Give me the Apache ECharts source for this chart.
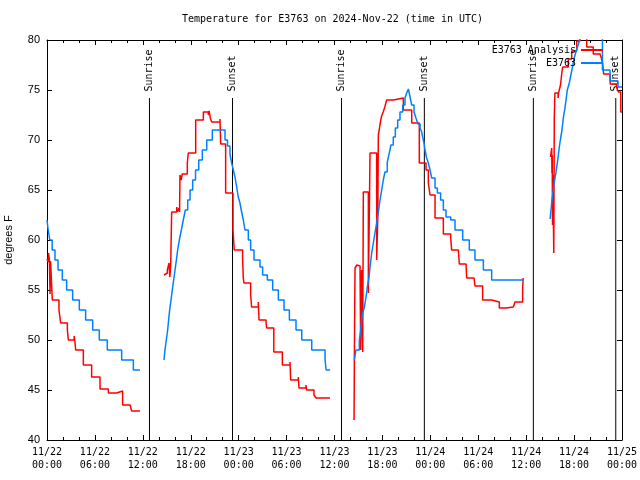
<!DOCTYPE html>
<html><head><meta charset="utf-8">
<script src="https://cdn.jsdelivr.net/npm/echarts@6/dist/echarts.min.js"></script>
<style>html,body{margin:0;padding:0;background:#fff}#c{width:640px;height:480px}</style>
</head><body><div id="c"></div>
<script>
const chartTitle = 'Temperature for E3763 on 2024-Nov-22 (time in UTC)';
const yAxisName = 'degrees F';
const analysisName = 'E3763 Analysis';
const obsName = 'E3763';
// x = hours since 2024-11-22 00:00 UTC
const xTickLabels = ['11/22\n00:00','11/22\n06:00','11/22\n12:00','11/22\n18:00','11/23\n00:00','11/23\n06:00','11/23\n12:00','11/23\n18:00','11/24\n00:00','11/24\n06:00','11/24\n12:00','11/24\n18:00','11/25\n00:00'];
const sunLabels = ['Sunrise','Sunset','Sunrise','Sunset','Sunrise','Sunset'];
const sunHours = [12.83, 23.23, 36.88, 47.25, 60.9, 71.22];
const sunLineTop = 74.2;

// red series (E3763 Analysis) segments
const redA = [[0.00,58.1],[0.12,57.8],[0.2,58.7],[0.3,58.0],[0.38,54.6],[0.45,57.9],[0.55,56.0],[0.67,54.0],[1.5,53.0],[1.71,51.7],[2.55,51.0],[2.67,50.0],[3.4,50.4],[3.5,49.8],[3.59,49.0],[4.55,47.5],[5.59,46.3],[6.64,45.1],[7.68,44.7],[8.72,44.9],[9.47,43.5],[10.4,43.7],[10.6,42.9],[11.64,42.9]];
const redB = [[14.65,56.5],[14.86,56.7],[15.07,57.0],[15.28,57.7],[15.38,56.3],[15.49,57.5],[15.61,62.8],[16.24,63.3],[16.3,62.8],[16.53,63.2],[16.6,62.8],[16.65,66.5],[16.8,66.0],[16.94,66.6],[17.57,67.7],[17.69,68.7],[18.62,72.0],[19.58,72.8],[20.2,72.5],[20.3,72.9],[20.45,72.2],[20.62,71.8],[21.66,72.1],[21.75,69.6],[22.37,64.7],[23.29,61.0],[23.45,59.0],[24.49,58.2],[24.58,56.2],[24.66,55.7],[25.5,54.5],[25.62,53.3],[26.46,53.8],[26.55,52.0],[27.43,51.7],[27.51,51.2],[28.4,48.8],[29.47,47.5],[30.43,47.8],[30.51,46.0],[31.47,46.3],[31.55,45.2],[32.43,45.5],[32.51,45.0],[33.43,44.5],[33.68,44.2],[35.44,44.2]];
const redC = [[38.45,42.0],[38.5,49.7],[38.57,57.2],[38.8,57.5],[39.05,57.4],[39.2,57.0],[39.28,49.0],[39.4,57.0],[39.53,48.8],[39.61,64.8],[40.24,54.7],[40.45,68.7],[41.28,58.0],[41.42,62.3],[41.49,70.5],[41.6,71.0],[41.69,71.5],[41.8,72.0],[41.9,72.4],[42.1,72.8],[42.3,73.3],[42.53,74.0],[43.37,74.2],[44.62,73.0],[45.67,71.7],[46.62,67.7],[47.46,67.0],[47.75,65.7],[47.96,64.5],[48.59,62.2],[49.63,60.6],[50.55,60.2],[50.67,59.0],[51.51,59.2],[51.63,57.6],[52.47,57.7],[52.55,56.2],[53.47,56.4],[53.59,55.4],[54.55,54.0],[55.68,53.8],[56.64,53.2],[57.48,53.3],[58.39,53.5],[58.6,53.8],[59.56,55.0],[59.62,56.2],[59.65,56.2]];
const redD = [[63.05,68.3],[63.2,69.2],[63.23,66.7],[63.26,68.5],[63.3,61.5],[63.36,66.5],[63.42,61.3],[63.46,58.7],[63.52,72.2],[63.6,74.7],[64.0,74.2],[64.05,74.7],[64.3,75.5],[64.45,76.6],[64.57,77.3],[65.27,78.1],[65.7,78.9],[66.33,79.9],[66.74,80.8],[67.58,79.3],[68.4,78.6],[69.25,78.5],[69.45,78.1],[69.58,77.6],[69.7,76.6],[70.52,75.6],[71.3,75.3],[71.55,74.8],[71.85,72.8],[72.0,72.8]];

// blue series (E3763) segments
const blueA = [[0,62],[0.15,61],[0.35,60],[0.65,59],[1.0,58],[1.38,57],[1.92,56],[2.46,55],[3.21,54],[4.05,53],[4.84,52],[5.72,51],[6.55,50],[7.55,49],[9.35,48],[10.81,47],[11.65,47]];
const blueB = [[14.65,48],[14.77,49],[14.94,50],[15.11,51],[15.23,52],[15.36,53],[15.53,54],[15.69,55],[15.86,56],[16.03,57],[16.2,58],[16.36,59],[16.57,60],[16.82,61],[17.07,62],[17.32,63],[17.62,64],[17.91,65],[18.24,66],[18.6,67],[19.0,68],[19.45,69],[20.0,70],[20.7,71],[22.29,70],[22.6,69.4],[22.91,68.6],[23.12,67.7],[23.33,67.0],[23.54,66.3],[23.75,65.3],[23.95,64.3],[24.16,63.7],[24.37,62.8],[24.58,62.0],[24.79,61.0],[25.21,60.0],[25.5,59.0],[25.92,58.0],[26.67,57.3],[27.0,56.5],[27.59,56.0],[28.26,55.0],[28.97,54.0],[29.68,53.0],[30.35,52.0],[31.18,51.0],[31.9,50.0],[33.15,49.0],[34.82,48.0],[34.95,47.0],[35.45,47.0]];
const blueC = [[38.48,48.0],[38.69,49.0],[39.11,50.0],[39.28,51.0],[39.4,52.0],[39.53,52.7],[39.74,53.3],[39.95,54.3],[40.11,55.3],[40.32,56.3],[40.45,57.3],[40.66,58.7],[40.86,59.7],[41.07,60.7],[41.28,61.7],[41.49,62.8],[41.7,64.0],[41.91,65.0],[42.11,66.0],[42.32,66.8],[42.61,67.8],[42.86,68.7],[43.07,69.5],[43.36,70.3],[43.62,71.2],[43.91,72.0],[44.2,72.8],[44.54,73.5],[44.83,74.2],[45.04,74.7],[45.25,75.1],[45.46,74.3],[45.67,73.5],[45.96,72.8],[46.2,72.2],[46.45,71.6],[46.71,71.2],[46.92,70.8],[47.04,70.3],[47.21,69.7],[47.33,69.0],[47.54,68.2],[47.75,67.7],[47.96,67.0],[48.17,66.2],[48.59,65.2],[48.88,64.7],[49.29,64.0],[49.63,63.0],[49.96,62.3],[50.55,62.0],[51.09,61.0],[52.05,60.0],[52.88,59.0],[53.59,58.0],[54.64,57.0],[55.68,56.0],[59.65,56.0]];
const blueD = [[63.0,62.1],[63.24,64.1],[63.49,65.6],[63.74,66.8],[63.9,67.7],[64.03,68.5],[64.15,69.3],[64.32,70.2],[64.49,71.0],[64.65,72.2],[64.86,73.2],[64.99,74.0],[65.15,75.0],[65.4,75.7],[65.6,76.5],[65.8,77.3],[66.05,78.3],[66.3,79.0],[66.55,79.6],[66.8,80.4],[69.55,77.0],[70.5,75.9],[71.5,75.3],[72.0,75.3]];

const RED = '#ff0000';
const BLUE = '#0080ff';
const MONO = 'DejaVu Sans Mono';
const SANS = 'Liberation Sans';

function stepSeries(name, color, data) {
  return { type: 'line', name, step: 'end', data, symbol: 'none', showSymbol: false,
    lineStyle: { color, width: 1.5 }, itemStyle: { color }, clip: true, animation: false, z: 3 };
}
const series = [];
[redA, redB, redC, redD].forEach(d => series.push(stepSeries(analysisName, RED, d)));
[blueA, blueB, blueC, blueD].forEach(d => series.push(stepSeries(obsName, BLUE, d)));
sunHours.forEach((h, i) => {
  series.push({ type: 'line', name: 'sun' + i, animation: false, z: 2,
    symbol: 'circle', symbolSize: 1, showSymbol: true, itemStyle: { color: 'rgba(0,0,0,0)' },
    lineStyle: { color: '#000', width: 1 },
    data: [
      { value: [h, sunLineTop], label: { show: true, formatter: sunLabels[i], position: 'top', distance: 6, rotate: 90, align: 'left', verticalAlign: 'middle', fontFamily: MONO, fontSize: 10, color: '#000' } },
      [h, 40]
    ] });
});

const xBase = { type: 'value', min: 0, max: 72, interval: 6,
  axisLine: { show: true, onZero: false, lineStyle: { color: '#000', width: 1 } },
  axisTick: { show: true, inside: true, length: 5, lineStyle: { color: '#000' } },
  minorTick: { show: true, splitNumber: 3, length: 3, lineStyle: { color: '#000' } },
  splitLine: { show: false }, minorSplitLine: { show: false } };
const yBase = { type: 'value', min: 40, max: 80, interval: 5,
  axisLine: { show: true, onZero: false, lineStyle: { color: '#000', width: 1 } },
  axisTick: { show: true, inside: true, length: 5, lineStyle: { color: '#000' } },
  splitLine: { show: false } };

const legendBase = { orient: 'vertical', align: 'right', right: 37, padding: 0, itemWidth: 22, itemHeight: 2,
  icon: 'rect', selectedMode: false, textStyle: { fontFamily: MONO, fontSize: 10, color: '#000' } };

const option = {
  animation: false,
  backgroundColor: '#fff',
  title: { text: chartTitle, left: 182, top: 14, padding: 0,
    textStyle: { fontFamily: MONO, fontSize: 10, fontWeight: 'normal', color: '#000' } },
  legend: [
    Object.assign({}, legendBase, { data: [analysisName], top: 45 }),
    Object.assign({}, legendBase, { data: [obsName], top: 58 })
  ],
  grid: { left: 47, right: 18, top: 40, bottom: 40, containLabel: false, outerBoundsMode: 'none' },
  xAxis: [
    Object.assign({}, xBase, { position: 'bottom',
      axisLabel: { formatter: v => xTickLabels[Math.round(v / 6)], fontFamily: MONO, fontSize: 10, color: '#000', lineHeight: 13, margin: 6 } }),
    Object.assign({}, xBase, { position: 'top', axisLabel: { show: false } })
  ],
  yAxis: [
    Object.assign({}, yBase, { position: 'left', name: yAxisName, nameLocation: 'middle', nameGap: 33,
      nameTextStyle: { fontFamily: SANS, fontSize: 11, color: '#000' },
      axisLabel: { fontFamily: SANS, fontSize: 11, color: '#000', margin: 7 } }),
    Object.assign({}, yBase, { position: 'right', axisLabel: { show: false } })
  ],
  series
};
const chart = echarts.init(document.getElementById('c'), null, { renderer: 'canvas' });
chart.setOption(option);
</script></body></html>
